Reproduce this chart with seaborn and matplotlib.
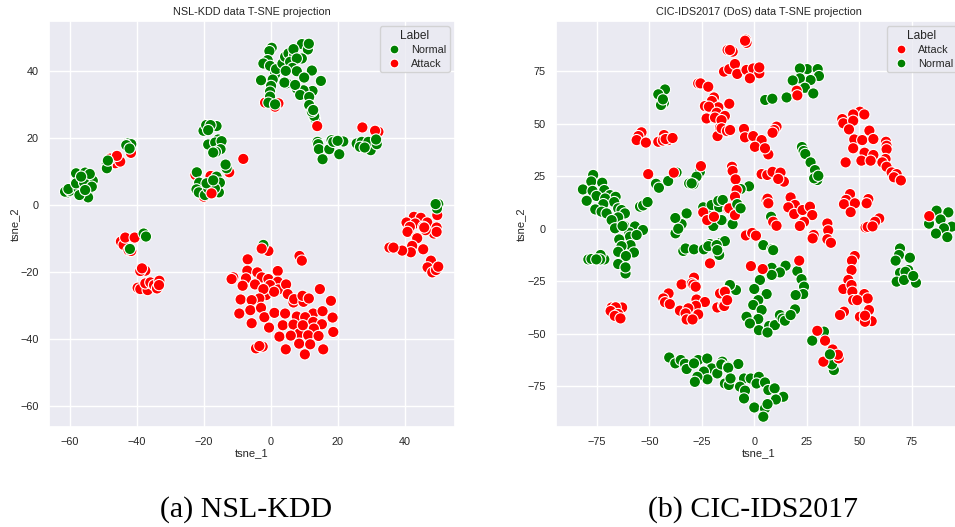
"""
T-SNE projections of the NSL-KDD and CIC-IDS2017 (DoS) data
Outputs one figure, out.png
"""

import matplotlib.pyplot as plt
import pandas as pd
import seaborn as sns

# (tsne_1, tsne_2), drawn in the order below
nsl_normal = [
    (-60.7, 3.7), (-61.5, 3.9), (-60, 4.2), (-60.5, 4.7), (-58.2, 9.4), (-55.5, 9.6),
    (-54.6, 6.9), (-53.2, 7.2), (-57.4, 4.6), (-54.6, 4.1), (-54.6, 2.2), (-57.2, 2.9),
    (-58.2, 6.4), (-55.8, 6.6), (-54.1, 9.2), (-56.7, 8.4), (-53.5, 5.4), (-55.5, 4.4),
    (-49, 12.3), (-49, 10.9), (-48.7, 13.2),
    (-42.7, 18.3), (-41.7, 18.1), (-43.2, 17.8), (-42.2, 16.8),
    (-20.1, 22.1), (-19.3, 23.8), (-16.2, 23.5), (-18, 23.8), (-18.7, 22.3),
    (-18.7, 18), (-15.7, 19.5), (-16.6, 18.6), (-14.7, 19), (-15, 16.6), (-16.4, 15.8), (-17.2, 15.6),
    (-13.2, 10.9), (-13.5, 12), (-22.1, 9.7), (-21.4, 6.6), (-22.2, 4.6), (-21.5, 3.7),
    (-19.7, 2.9), (-15.5, 3.7), (-16.2, 8.4), (-15.2, 6.6), (-18.7, 4.9), (-16.7, 4.9),
    (-19.2, 6.4), (-17.2, 7.3),
    (0.3, 46.9), (-0.4, 45.9), (-0.9, 43.2), (-2.2, 42.2), (-0.2, 41.5), (1.3, 39), (1.6, 40.5),
    (-2.9, 37.2), (0.6, 37.4), (0.1, 35.5), (-0.2, 33.8), (-0.2, 32.3), (-0.7, 30.5), (1.3, 30),
    (4.8, 36.3), (4.1, 36.5), (3.5, 42.2), (4.3, 44.2), (9.3, 48), (11.1, 46.4), (11.4, 48.1),
    (5.3, 45.2), (7, 44.7), (6.8, 46.5), (9.3, 43.7), (5.8, 42.7), (7.8, 43.7), (6.5, 40.9),
    (7.8, 39.9), (4.5, 40), (12.3, 40.1), (10, 38), (15, 37), (12.5, 34), (7.8, 34.7),
    (9.8, 34.2), (7.3, 35.8), (8.8, 32.8), (11.5, 32.2), (11.5, 29.8), (13.2, 25.8), (13, 26.5),
    (12.3, 27.8), (12.7, 28.3),
    (14, 18.8), (14.2, 18.1), (14.4, 16.6), (15.5, 13.6), (17.5, 16.6), (20.5, 15.1),
    (21.7, 18.9), (18.2, 19.3), (18.7, 18.8), (20, 19.1),
    (25.7, 18.3), (27.2, 18.8), (26.7, 17.3), (29.9, 16.3), (29.2, 18.8), (31.7, 18.1),
    (31.5, 19.5), (28.1, 17.1),
    (50.1, 0.2), (49.7, -1.1), (49.3, 0.2),
    (-38, -8.6), (-37.3, -9.5), (-42.1, -13.2), (-2.2, -12),
]
nsl_attack_back = [
    (-46.5, 12.4), (-45, 12.9), (-48, 13.8), (-46, 14.6), (-41.8, 15.5),
    (-22.5, 8.9), (-20, 2.4), (-18, 8.6), (-12.4, 9.7), (-8.2, 13.7),
    (-1.7, 30.5), (2.3, 30.3), (1.3, 29.3),
    (27.4, 23.1), (32.2, 21.8), (31.2, 22.1), (49.8, -3.1),
    (42.8, -3.6), (44.9, -3.9), (40.6, -5.3), (43.2, -5.6), (46.8, -5.3), (41.6, -6.6), (45.6, -6.6),
    (40.9, -8.1), (43.6, -9.8), (48.8, -8.6), (49.6, -6.8), (49.6, -8.1), (46.3, -7.6), (45.9, -6.8),
    (43.8, -10), (42.3, -12.3), (45.6, -13.3), (41.9, -14.2), (39.3, -13.7), (35.5, -12.8), (36.7, -12.8),
    (47.9, -16.7), (46.9, -18.7), (48.3, -20.2), (49.4, -19.5), (50.1, -18.5),
    (-6.9, -16.3), (-0.7, -13.8), (8.6, -15.3), (9.3, -16.7), (2.1, -19.8), (-7, -19.7),
    (-11.2, -21.7), (-11.7, -22.2), (-7.4, -22), (-4, -20.2), (-8.4, -24.2), (-2.7, -21.7),
    (-0.7, -22.2), (2.1, -23), (-0.2, -24), (-4.7, -23.8), (2.3, -25.3), (-1.4, -27), (1, -26),
    (-2.2, -25.2), (4.6, -23.8), (5.1, -26.7), (-3.4, -28), (-9, -28.3), (-5.7, -28.5),
    (6.8, -29.2), (7, -28.2), (9.8, -29), (9.5, -27.2), (11.4, -28), (14.7, -25.2), (18, -28.7),
    (-9.4, -32.5), (-6.1, -31.5), (-2.9, -30.8), (-1.9, -33.6), (1.1, -32.3), (4.3, -32.5),
    (12.7, -32.5), (15.5, -31.8), (7.8, -33.4), (10.3, -33.6), (18.5, -33.7), (12.7, -35),
    (-5.7, -35.4), (-0.5, -36.7), (3.6, -36), (6.8, -35.8), (15.3, -35.7), (12.9, -37),
    (9.3, -38), (8.6, -38.4), (9.6, -36), (18.7, -38), (2.6, -39.4), (6, -39.1), (11.2, -39),
    (14.3, -39.2), (-4.4, -42.9), (-2.4, -42.4), (-3.4, -42.2), (8.5, -41.5), (11.8, -41.7),
    (4.5, -43.2), (15.7, -43.2), (10.2, -44.7),
    (-44.8, -11), (-44, -12), (-42.5, -13.6), (-41.7, -13.8), (-43.5, -9.8), (-40.7, -9.8),
    (-37.5, -19.7), (-39, -19.8), (-38.5, -19),
    (-39.8, -24.8), (-39, -25.2), (-36.8, -25.5), (-37.5, -23.5), (-36, -23.2),
    (-34.9, -24), (-33.3, -22.7), (-34, -25), (-33.4, -24),
]
nsl_attack_top = [(-17.7, 3.4), (13.9, 23.5), (-2.7, -13.1)]

cic_normal = [
    (-42.5, 66.3), (-45.7, 64), (-43, 60), (-44.4, 58.9), (-43.5, 61.6),
    (-37, 26.8), (-25.9, 27.1), (-27.5, 24.8), (-31, 21.6), (-29, 21.2), (-29.8, 21.6),
    (-46.8, 21.4), (-45.4, 19.5), (-41, 22.7), (-54.4, 10.5), (-52.9, 11.1), (-50.8, 12.7),
    (-76.7, 25.6), (-77.6, 22.5), (-72.4, 21.9), (-81.6, 18.7), (-71.4, 18.4), (-77, 18),
    (-75.1, 15.6), (-79.8, 13.3), (-68.7, 16), (-66, 15.2), (-71, 14.4), (-66.7, 12.7), (-71.9, 11.7),
    (-75.7, 9.2), (-72.7, 8.1), (-64.8, 9.7), (-63.2, 8.9), (-61.6, 7.3), (-70.3, 7.3), (-64.8, 5.4),
    (-67.9, 4.1), (-61.9, 1.4), (-66.3, 0.2), (-56.8, 1.1), (-53, -0.6), (-59.5, -1.9), (-62.7, 1.3),
    (-59.2, -3.8), (-56, -3), (-64.3, -5.1), (-58.9, -7.8), (-63.2, -8.3), (-64.8, -11), (-57.3, -11.3),
    (-61.1, -13), (-64.8, -16.8), (-61.3, -21.3), (-61.3, -18.4),
    (-79, -14.6), (-77.5, -14.4), (-71.4, -14.6), (-73.2, -12.5), (-73.4, -14.6), (-75.2, -14.6),
    (-32.2, 7.3), (-34.6, 2.2), (-37.6, 5.1), (-37.5, -2.2), (-36.2, 0),
    (-24.3, 10.2), (-22.7, 7.3), (-20.3, 11.3), (-16.7, 10.2), (-17.1, 13.3), (-19.5, 1.3), (-15.2, 4.1),
    (-33.8, -10.6), (-32.7, -9.4), (-28.7, -9.8), (-24, -9.8), (-21.1, -7.3), (-21.9, -8.3),
    (-16, -6.7), (-14, -5.9), (-17.9, -7.8), (-16.7, -12.5), (-17.6, -10.2),
    (-11.9, -26.8), (-8.7, -29.2), (-11.6, -26.8),
    (-40.5, -61.3), (-37.6, -64.1), (-35, -62.5), (-33, -64.3), (-32.2, -66.8), (-26.7, -62.5),
    (-28.7, -64.1), (-22.4, -61.8), (-20.3, -66.5), (-24, -68), (-22.3, -71.7), (-27.1, -70.5),
    (-28.3, -72.9), (-15.2, -63.3), (-17.6, -68.9), (-15.7, -64.6), (-14, -73.7), (-12.4, -65.7),
    (-12.1, -74.4), (-7.6, -64.4), (-12.4, -66.2), (-11.3, -71.3), (-4.9, -71.3), (-1.7, -71.3),
    (2.2, -70.5), (1.1, -73.7), (-6.8, -75.2), (-4.4, -77.1), (-4.9, -80.8), (5.1, -73.2),
    (6.7, -76.8), (9.7, -76), (13.8, -80), (10.3, -81.3), (0, -85.1), (5.1, -85.6), (6.3, -83.5), (4.3, -89.5),
    (25.2, 76), (21.7, 76.3), (30.2, 76), (30.8, 72.7), (26.8, 70.8), (21.7, 71.6), (18.3, 70.6),
    (24.1, 67.1), (28.1, 64.4), (15.4, 62.5), (5.2, 61.3), (8.6, 61.9),
    (22.7, 38.9), (23.5, 37), (24.3, 35.6), (26.8, 31.6), (28.9, 27.9), (30, 23.2), (28.5, 24), (30.5, 25.2),
    (-2.5, 20.2), (-6.5, 18.9), (-15, 13.7), (-15.6, 4.1), (-10.3, 2.2), (8, 5.7),
    (83.2, 2.4), (86.8, 8.6), (92.4, 7.8), (94, 1), (88.7, 4.4), (90.3, 0.2), (86.5, -2.3), (91.9, -4),
    (4.3, -7.8), (8.5, -9.7), (9, -10.2),
    (8.3, -18.6), (14.9, -17.6), (12.2, -20.8), (8.3, -22), (20.5, -20.2), (22.5, -24), (23.7, -27.6),
    (2.7, -24.4), (0, -28.7), (23.3, -31.1), (19.7, -31.6), (5.9, -31.1), (1.9, -34), (-0.5, -36.3),
    (3.5, -38.7), (-3.7, -41.9), (1.9, -43), (-2.1, -45.1), (2.2, -48.3), (7.1, -46.3), (9.8, -45.9),
    (6.3, -49.4), (12.2, -41.1), (19.4, -38.4), (13.5, -42.8), (14.6, -43.8), (17.3, -41.1),
    (69.4, -9.4), (68.9, -12.5), (74.1, -13.8), (67.3, -15.2), (73.3, -19.7), (69.4, -21), (72, -20.5),
    (67.8, -25.2), (71.3, -24.4), (77, -25.7), (75.7, -22.5),
    (33.2, -49), (27.6, -53.3), (37.9, -67.3), (37, -64.6),
]
cic_attack = [
    (-53.7, 45.9), (-55.2, 44.1), (-56, 42.2), (-51.6, 41), (-45.7, 41.4), (-43, 44.6), (-41, 42.2),
    (-43.5, 42), (-42.2, 42.7), (-38.9, 43.2),
    (-26.7, 69.2), (-25.6, 69.2), (-21.9, 67.6), (-19.2, 62.5), (-20.2, 60.8), (-23.5, 58.4),
    (-17.1, 57.8), (-21.6, 58.1), (-17.9, 55.2), (-22.7, 52.5), (-18.7, 52.9), (-14, 53.7),
    (-16.3, 48.1), (-12.7, 46.2), (-17.5, 44.1), (-11.9, 59.5),
    (-14.4, 74.8), (-11.9, 76), (-9.2, 78.4), (-8.1, 73.7), (-3.7, 75.6), (-0.5, 76.3), (2.4, 74),
    (2.4, 76.8), (-2.1, 71.6), (-12.7, 85.1), (-10.3, 84.3), (-11.6, 85.1), (-4, 90), (-3.7, 88.5), (-4.4, 89.5),
    (-50.5, 26), (-38.3, 26.7), (-25.4, 29.8),
    (-24.3, 7.8), (-22.4, 4.1), (-19.2, 5.7), (-12.4, 9.4),
    (-15.6, 51.7), (-15.6, 47.8), (-13, 46.5), (-11.5, 47), (-4.9, 47.5), (-4.4, 43.5), (-0.5, 44.1),
    (3.5, 42.2), (10.6, 48.6), (9.5, 47), (8.7, 45.7), (0.3, 39), (6.7, 35.4), (5.1, 38.3),
    (20.2, 65.7), (20.5, 63.5),
    (41.9, 52.2), (42.4, 50.2), (50.3, 55.7), (47.1, 54.4), (52.4, 54.4), (47.1, 51.4), (45.1, 47.3),
    (54.8, 46.7), (47.6, 42.5), (51.4, 42.2), (56.7, 42.7), (62.7, 41.4), (63, 39.5), (47.1, 38.3),
    (63, 37.8), (52.5, 36.2), (56.7, 35.1), (43.5, 31.6), (51, 32.4), (55.4, 32.4), (62.5, 33.2),
    (61, 31.6), (63, 29.5), (65.4, 26.8), (67.8, 26), (66.5, 24.5), (69.8, 23),
    (-10.6, 29.5), (-10.3, 27.5), (-8.9, 23.5), (-8.4, 18.4), (-9.2, 15.2), (-11.9, 9.7), (-9.2, 6.5),
    (3.5, 26), (6.2, 25.6), (8.7, 27.1), (12.5, 26.7), (14.1, 22.4), (11.4, 23.7),
    (5.8, 13.7), (6.3, 14.3), (6.7, 12.1),
    (17.3, 14.9), (19.4, 11.3), (16.2, 10.2), (19, 7), (23, 8.9), (26.5, 10.5), (27.6, 6.5), (23.7, 3.3),
    (21.7, 1.3), (9, 3.3), (10.6, 1.4),
    (45.6, 16.5), (43.7, 13.7), (42.7, 11.7), (47.9, 12.1), (54.3, 14.1), (53.5, 12.1), (45.9, 7.9),
    (59.5, 4.9), (57.5, 3.3), (53, 0.6), (54, 0.9), (56.3, 1.1),
    (83.3, 6), (34.8, 2.5), (35.2, -0.8), (34.8, -5), (36.5, -6.7), (28.3, -3), (27.8, -4.6),
    (-3.7, -3), (-4, -3.2), (-1, -2), (0.8, -3.3),
    (-21.1, -16.5), (-28.7, -23.3), (-34.6, -26.5), (-29.7, -26), (-29, -26.6), (-27.9, -27.6),
    (-40.8, -30.8), (-43.3, -33.2), (-42.5, -35), (-40.2, -35.9), (-27.5, -33.7), (-23.5, -34.9),
    (-27.8, -36.7), (-35.4, -39), (-31.4, -37.9), (-32.7, -40.3), (-26.7, -40.8), (-32.2, -43.2), (-29.4, -43.2),
    (-67.9, -37.5), (-62.9, -37.5), (-66, -37.4), (-68.4, -39.2), (-64.8, -40.6), (-66.4, -41.5), (-63.7, -42.7),
    (-16.3, -30.8), (-14, -29.7), (-14, -30), (-17.6, -37.5), (-14.8, -36.7), (-14.3, -36.8), (-12.9, -34),
    (-1.6, -17.8), (4, -19.2), (21.4, -15.2),
    (47.8, -13), (46.5, -15.2), (46.3, -19.7), (44.8, -24.4), (42.4, -28.7), (46.3, -26.8), (46.7, -30),
    (52.4, -31.1), (54, -33.2), (47.1, -34), (49, -34), (42.7, -39.5), (40.8, -41.1), (54.6, -38.7),
    (50.3, -41.9), (55.9, -44), (52.7, -44.3), (52.7, -41.4),
    (30, -48.6), (33.7, -53.3), (37.3, -57.5), (40.2, -61.7), (39.8, -60), (32.9, -63.3),
]
cic_normal_top = [(36, -59.8), (-8.1, 11.7), (-6.5, 9.7)]

nsl_ticks = [-60, -40, -20, 0, 20, 40]
cic_xticks = [-75, -50, -25, 0, 25, 50, 75]
cic_yticks = [-75, -50, -25, 0, 25, 50, 75]

palette = {"Normal": "green", "Attack": "red"}


def _to_frame(groups):
    """
    helper method which stacks (label, points) groups into one table,
    the row order is the draw order
    """
    rows = []
    for label, points in groups:
        rows += [(x, y, label) for x, y in points]
    return pd.DataFrame(rows, columns=["tsne_1", "tsne_2", "Label"])


def _panel(fig, rect, data, hue_order, title):
    ax = fig.add_axes(rect)
    sns.scatterplot(x="tsne_1", y="tsne_2", hue="Label", data=data,
                    hue_order=hue_order, palette=palette, s=66,
                    edgecolor="white", linewidth=0.8, ax=ax)
    ax.set_title(title, fontsize=7.8, pad=4)
    ax.set_xlabel("tsne_1", fontsize=8, labelpad=0.5)
    ax.set_ylabel("tsne_2", fontsize=8, labelpad=0.5)
    ax.tick_params(labelsize=7.8, pad=1.5)
    ax.legend(title="Label", loc="upper right", fontsize=7.8, title_fontsize=8.6,
              markerscale=0.78, labelspacing=0.32, borderpad=0.3, handletextpad=0.6)
    return ax


def main():
    sns.set_theme()
    plt.rcParams["font.family"] = ["Liberation Sans", "DejaVu Sans"]

    fig = plt.figure(figsize=(9.55, 5.27), dpi=100)

    nsl = _to_frame([("Attack", nsl_attack_back), ("Normal", nsl_normal),
                     ("Attack", nsl_attack_top)])
    ax = _panel(fig, [49 / 955, 100 / 527, 406 / 955, 406 / 527], nsl,
                ["Normal", "Attack"], "NSL-KDD data T-SNE projection")
    ax.set_xlim(-66.3, 55.1)
    ax.set_ylim(-66.4, 54.9)
    ax.set_xticks(nsl_ticks)
    ax.set_yticks(nsl_ticks[:-1] + [40])

    cic = _to_frame([("Normal", cic_normal), ("Attack", cic_attack),
                     ("Normal", cic_normal_top)])
    # this axes runs a little past the right edge of the figure
    ax = _panel(fig, [556 / 955, 100 / 527, 406 / 955, 406 / 527], cic,
                ["Attack", "Normal"], "CIC-IDS2017 (DoS) data T-SNE projection")
    ax.set_xlim(-94.4, 98.9)
    ax.set_ylim(-94.4, 98.9)
    ax.set_xticks(cic_xticks)
    ax.set_yticks(cic_yticks)

    fig.text(246 / 955, 0.02, "(a) NSL-KDD", family="Liberation Serif",
             fontsize=21.5, ha="center", color="black")
    fig.text(753 / 955, 0.02, "(b) CIC-IDS2017", family="Liberation Serif",
             fontsize=21.5, ha="center", color="black")

    fig.savefig("out.png", dpi=100)


if __name__ == "__main__":
    main()
